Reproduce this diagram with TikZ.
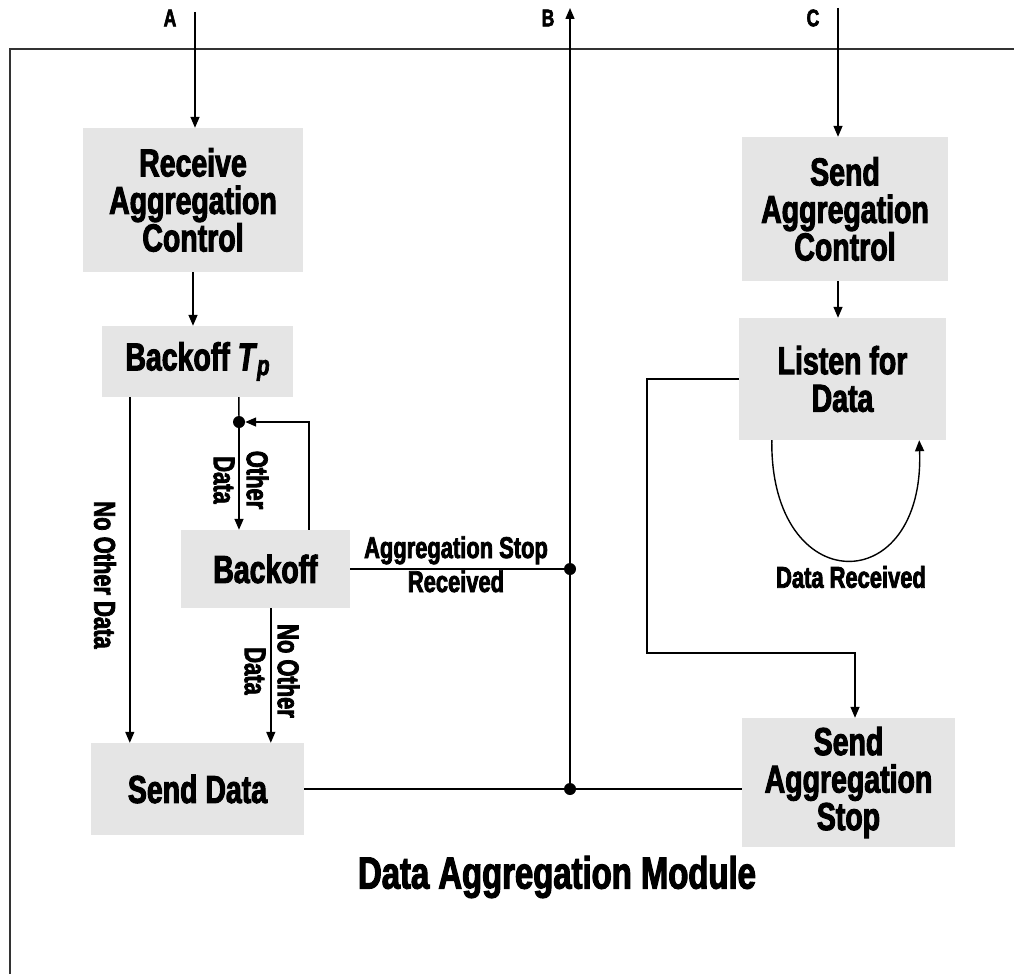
\documentclass[tikz,border=0pt]{standalone}
\usepackage{fontspec}
\setmainfont{Liberation Sans}[FakeStretch=0.73, BoldFeatures={FakeBold=2.5}, BoldItalicFeatures={FakeBold=2.5}]
\usetikzlibrary{arrows.meta,calc}
\definecolor{boxgray}{HTML}{E5E5E5}
\definecolor{framegray}{HTML}{333333}
\begin{document}
\begin{tikzpicture}[x=1pt,y=-1pt,
  box/.style={fill=boxgray, inner sep=0pt, align=center,
    font=\bfseries\fontsize{39}{37.5}\selectfont},
  lbl/.style={inner sep=0pt, align=center,
    font=\bfseries\fontsize{30}{33}\selectfont},
  port/.style={inner sep=0pt, font=\bfseries\fontsize{24}{24}\selectfont},
  title/.style={inner sep=0pt, font=\bfseries\fontsize{45}{45}\selectfont},
  wire/.style={line width=1.4pt},
  conn/.style={wire, -{Triangle[length=11pt,width=9pt]}},
  dot/.style={circle, fill=black, inner sep=0pt, minimum size=12pt},
]
\useasboundingbox (0,0) rectangle (1014,974);

% module frame (open at right and bottom)
\draw[framegray, line width=2pt] (10,974) -- (10,49) -- (1014,49);

% external ports
\coordinate (Atop) at (195,12);
\coordinate (Btop) at (570,8);
\coordinate (Ctop) at (838,8);
\node[port] (Alab) at (170,18) {A};
\node[port] (Blab) at (548,18) {B};
\node[port] (Clab) at (813,18) {C};

% processing blocks
\node[box, minimum width=220pt, minimum height=144pt] (rac) at (193,200)
  {Receive\\Aggregation\\Control};
\node[box, minimum width=191pt, minimum height=71pt] (tp) at (197.5,361.5)
  {Backoff \textit{T}\raisebox{-0.12em}{\itshape\fontsize{28}{28}\selectfont p}};
\node[box, minimum width=169pt, minimum height=78pt] (bo) at (265.5,569) {Backoff};
\node[box, minimum width=213pt, minimum height=92pt] (sd) at (197.5,789) {Send Data};
\node[box, minimum width=206pt, minimum height=144pt] (sac) at (845,209)
  {Send\\Aggregation\\Control};
\node[box, minimum width=207pt, minimum height=122pt] (lf) at (842.5,379)
  {Listen for\\Data};
\node[box, minimum width=213pt, minimum height=129pt] (sas) at (848.5,782.5)
  {Send\\Aggregation\\Stop};

% junctions
\node[dot] (dot1) at (239,422) {};
\node[dot] (dot2) at (570,569) {};
\node[dot] (dot3) at (570,789) {};

% helper points on block edges
\coordinate (tpL) at ([xshift=28pt]tp.south west);
\coordinate (tpR) at ([xshift=137pt]tp.south west);
\coordinate (boR) at ([xshift=128pt]bo.north west);
\coordinate (boS) at ([xshift=90pt]bo.south west);
\coordinate (turn) at (647,653);
\coordinate (sasIn) at ([xshift=6.5pt]sas.north);
\coordinate (lfBL) at ([xshift=33pt]lf.south west);
\coordinate (lfBR) at ([xshift=-27pt]lf.south east);

% left chain
\draw[conn] (Atop) -- (Atop |- rac.north);
\draw[conn] (rac.south) -- (rac.south |- tp.north);
\draw[conn] (tpL) -- (tpL |- sd.north);
\draw[wire] (tpR) -- (dot1);
\draw[conn] (dot1) -- (dot1 |- bo.north);
\draw[conn] (boR) |- (dot1);
\draw[conn] (boS) -- (boS |- sd.north);
\draw[wire] (bo.east) -- (dot2);

% shared bus to port B
\draw[conn] (dot3) -- (dot2) -- (Btop);
\draw[wire] (sd.east |- dot3) -- (dot3) -- (dot3 -| sas.west);

% right chain
\draw[conn] (Ctop) -- (Ctop |- sac.north);
\draw[conn] (Ctop |- sac.south) -- (Ctop |- lf.north);
\draw[conn] (lf.west) -| (turn) -| (sasIn);
\draw[conn] (lfBL) .. controls (770,600) and (925,600) .. (lfBR);

% transition labels
\node[lbl, rotate=-90] (noL) at (105,575) {No Other Data};
\node[lbl, rotate=-90] (oth) at (241,480) {Other\\Data};
\node[lbl, rotate=-90] (noR) at (272,671) {No Other\\Data};
\node[lbl, anchor=base] (stop1) at (456,558) {Aggregation Stop};
\node[lbl, anchor=base] (stop2) at (456,592) {Received};
\node[lbl] (drec) at (851,577) {Data Received};

% module name
\node[title] (mod) at (557,877) {Data Aggregation Module};
\end{tikzpicture}
\end{document}
